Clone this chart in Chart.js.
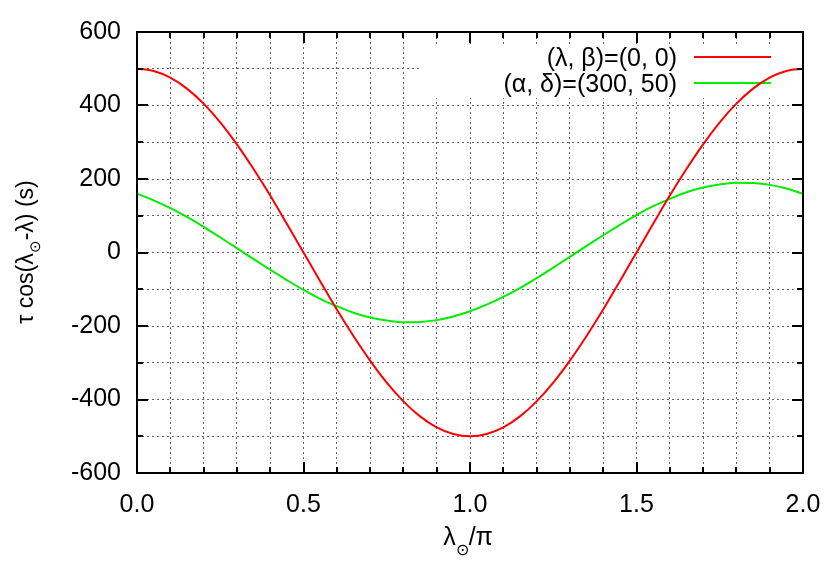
<!DOCTYPE html>
<html>
<head>
<meta charset="utf-8">
<script src="https://cdn.jsdelivr.net/npm/chart.js@4.4.1/dist/chart.umd.min.js"></script>
<style>
  html, body { margin: 0; padding: 0; background: #fff; }
</style>
</head>
<body>
<canvas id="c" width="830" height="581"></canvas>
<script>
// x = λ⊙/π, read every 0.05
var lambdaSun = [0.00, 0.05, 0.10, 0.15, 0.20, 0.25, 0.30, 0.35, 0.40, 0.45,
                 0.50, 0.55, 0.60, 0.65, 0.70, 0.75, 0.80, 0.85, 0.90, 0.95,
                 1.00, 1.05, 1.10, 1.15, 1.20, 1.25, 1.30, 1.35, 1.40, 1.45,
                 1.50, 1.55, 1.60, 1.65, 1.70, 1.75, 1.80, 1.85, 1.90, 1.95, 2.00];
// (λ, β)=(0, 0)
var eclipticDelay = [500, 494, 476, 446, 405, 354, 294, 227, 155, 78,
                     0, -78, -155, -227, -294, -354, -405, -446, -476, -494,
                     -500, -494, -476, -446, -405, -354, -294, -227, -155, -78,
                     0, 78, 155, 227, 294, 354, 405, 446, 476, 494, 500];
// (α, δ)=(300, 50)
var starDelay = [160, 142, 121, 97, 70, 41, 12, -18, -47, -75,
                 -102, -126, -146, -164, -177, -185, -190, -189, -184, -174,
                 -160, -142, -121, -97, -70, -41, -12, 18, 47, 75,
                 102, 126, 146, 164, 177, 185, 190, 189, 184, 174, 160];
var seriesNames = ['(λ, β)=(0, 0)', '(α, δ)=(300, 50)'];
var seriesColors = ['#ff0000', '#00ee00'];
var xMajor = [0, 0.5, 1, 1.5, 2];
var yMajor = [-600, -400, -200, 0, 200, 400, 600];

var FONT = '"Liberation Sans", Arial, Helvetica, sans-serif';
Chart.defaults.font.family = FONT;
Chart.defaults.font.size = 25;
Chart.defaults.color = '#000';

function isMajor(list, v) {
  for (var i = 0; i < list.length; i++) {
    if (Math.abs(list[i] - v) < 1e-6) return true;
  }
  return false;
}

function points(xs, ys) {
  var out = [];
  for (var i = 0; i < xs.length; i++) out.push({x: xs[i], y: ys[i]});
  return out;
}

// legend box over the grid, under the curves
var keyPlugin = {
  id: 'key',
  beforeDatasetsDraw: function(chart) {
    var ctx = chart.ctx;
    ctx.save();
    ctx.fillStyle = '#fff';
    ctx.fillRect(420, 45, 380, 53);
    ctx.font = '25px ' + FONT;
    ctx.textAlign = 'right';
    ctx.textBaseline = 'middle';
    chart.data.datasets.forEach(function(ds, i) {
      var y = 57 + i * 26;
      ctx.fillStyle = '#000';
      ctx.fillText(ds.label, 677, y + 2);
      ctx.strokeStyle = ds.borderColor;
      ctx.lineWidth = 2;
      ctx.beginPath();
      ctx.moveTo(694, y);
      ctx.lineTo(771, y);
      ctx.stroke();
    });
    ctx.restore();
  }
};

// frame, inward ticks on all sides, axis titles with subscript
var framePlugin = {
  id: 'frame',
  afterDatasetsDraw: function(chart) {
    var ctx = chart.ctx, a = chart.chartArea;
    var xs = chart.scales.x, ys = chart.scales.y;
    ctx.save();
    ctx.strokeStyle = '#000';
    ctx.lineWidth = 2;
    ctx.strokeRect(a.left, a.top, a.right - a.left, a.bottom - a.top);
    ctx.beginPath();
    xs.ticks.forEach(function(t) {
      var px = Math.round(xs.getPixelForValue(t.value));
      var len = isMajor(xMajor, t.value) ? 11 : 6;
      ctx.moveTo(px, a.bottom); ctx.lineTo(px, a.bottom - len);
      ctx.moveTo(px, a.top); ctx.lineTo(px, a.top + len);
    });
    ys.ticks.forEach(function(t) {
      var py = Math.round(ys.getPixelForValue(t.value));
      var len = isMajor(yMajor, t.value) ? 11 : 6;
      ctx.moveTo(a.left, py); ctx.lineTo(a.left + len, py);
      ctx.moveTo(a.right, py); ctx.lineTo(a.right - len, py);
    });
    ctx.stroke();

    // x title: λ⊙/π
    ctx.fillStyle = '#000';
    ctx.textBaseline = 'alphabetic';
    ctx.textAlign = 'left';
    var big = '25px ' + FONT, small = '16px ' + FONT;
    ctx.font = big; var w1 = ctx.measureText('λ').width, w3 = ctx.measureText('/π').width;
    ctx.font = small; var w2 = ctx.measureText('⊙').width;
    var x0 = 468 - (w1 + w2 + w3) / 2;
    ctx.font = big; ctx.fillText('λ', x0, 545);
    ctx.font = small; ctx.fillText('⊙', x0 + w1, 555);
    ctx.font = big; ctx.fillText('/π', x0 + w1 + w2, 545);

    // y title: τ cos(λ⊙-λ) (s)
    var bigY = '23px ' + FONT, smallY = '15px ' + FONT;
    ctx.translate(33, 252);
    ctx.rotate(-Math.PI / 2);
    ctx.font = bigY; var p1 = 'τ cos(λ', p3 = '-λ) (s)';
    var v1 = ctx.measureText(p1).width, v3 = ctx.measureText(p3).width;
    ctx.font = smallY; var v2 = ctx.measureText('⊙').width;
    var s0 = -(v1 + v2 + v3) / 2;
    ctx.font = bigY; ctx.fillText(p1, s0, 0);
    ctx.font = smallY; ctx.fillText('⊙', s0 + v1, 7);
    ctx.font = bigY; ctx.fillText(p3, s0 + v1 + v2, 0);
    ctx.restore();
  }
};

var gridStyle = {
  color: '#666',
  lineWidth: 1,
  drawTicks: false
};

new Chart(document.getElementById('c'), {
  type: 'line',
  data: {
    datasets: [{
      label: seriesNames[0],
      data: points(lambdaSun, eclipticDelay),
      borderColor: seriesColors[0],
      borderWidth: 2,
      pointRadius: 0,
      cubicInterpolationMode: 'monotone',
      fill: false
    }, {
      label: seriesNames[1],
      data: points(lambdaSun, starDelay),
      borderColor: seriesColors[1],
      borderWidth: 2,
      pointRadius: 0,
      cubicInterpolationMode: 'monotone',
      fill: false
    }]
  },
  options: {
    responsive: false,
    animation: false,
    devicePixelRatio: 1,
    layout: { padding: { left: 0, right: 27, top: 32, bottom: 0 } },
    plugins: { legend: { display: false }, tooltip: { enabled: false } },
    scales: {
      x: {
        type: 'linear',
        min: 0, max: 2,
        afterFit: function(s) { s.height = 108; s.paddingLeft = 0; s.paddingRight = 0; },
        border: { display: false, dash: [2, 3] },
        grid: gridStyle,
        ticks: {
          stepSize: 0.1,
          padding: 17,
          maxRotation: 0,
          autoSkip: false,
          callback: function(v) { return isMajor(xMajor, v) ? v.toFixed(1) : ''; }
        }
      },
      y: {
        min: -600, max: 600,
        afterFit: function(s) { s.width = 137; s.paddingTop = 0; s.paddingBottom = 0; },
        border: { display: false, dash: [2, 3] },
        grid: gridStyle,
        ticks: {
          stepSize: 100,
          padding: 16,
          autoSkip: false,
          callback: function(v) { return isMajor(yMajor, v) ? String(v) : ''; }
        }
      }
    }
  },
  plugins: [keyPlugin, framePlugin]
});
</script>
</body>
</html>
